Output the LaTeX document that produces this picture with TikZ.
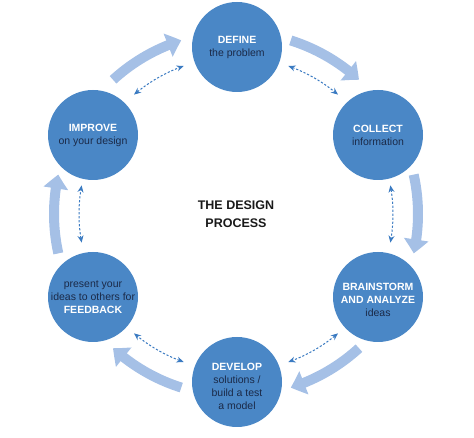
\documentclass[tikz,border=0pt]{standalone}
\usepackage{fontspec}
\setmainfont{Liberation Sans}
\usetikzlibrary{arrows.meta,bending,calc}
\definecolor{circ}{HTML}{4A87C6}
\definecolor{bigar}{HTML}{A5C0E6}
\definecolor{dashc}{HTML}{3B7BC2}
\definecolor{dark}{HTML}{1B2A48}
\newcommand{\hw}[1]{\textcolor{white}{\bfseries #1}}
\begin{document}
\begin{tikzpicture}[x=1pt,y=1pt,
  stage/.style={circle,fill=circ,minimum size=90pt,inner sep=0pt},
  stagetext/.style={align=center,font=\fontsize{10.5}{13}\selectfont,text=dark},
  bigarrow/.style={draw=bigar,line width=10pt,-{Triangle[length=14pt,width=24pt,bend]}},
  dasharrow/.style={draw=dashc,line width=1pt,dash pattern=on 2.2pt off 1.8pt,
    {Stealth[length=7pt,width=6pt,bend]}-{Stealth[length=7pt,width=6pt,bend]}},
]
\useasboundingbox (0,0) rectangle (474,438);
\coordinate (C) at (236,224);
% circles
\node[stage] (define) at (237,391) {};
\node[stage] (collect) at (378,303) {};
\node[stage] (brain) at (378,141) {};
\node[stage] (develop) at (237,56) {};
\node[stage] (feedback) at (93,141) {};
\node[stage] (improve) at (93,303) {};
% texts
\node[stagetext] (tdefine) at (define.center) {\hw{DEFINE}\\the problem};
\node[stagetext] (tcollect) at (collect.center) {\hw{COLLECT}\\information};
\node[stagetext] (tbrain) at ([yshift=-3pt]brain.center) {\hw{BRAINSTORM}\\\hw{AND ANALYZE}\\ideas};
\node[stagetext] (tdevelop) at ([yshift=-4pt]develop.center) {\hw{DEVELOP}\\solutions /\\build a test\\a model};
\node[stagetext] (tfeedback) at (feedback.center) {present your\\ideas to others for\\\hw{FEEDBACK}};
\node[stagetext] (timprove) at (improve.center) {\hw{IMPROVE}\\on your design};
\node[align=center,font=\fontsize{12.5}{18}\selectfont\bfseries,text=black!90] (title) at (C) {THE DESIGN\\PROCESS};
% big arrows and dashed arrows
\foreach \m in {60,0,-60,-120,-180,120}{
  \draw[bigarrow] ($(C)+(\m+12.5:182)$) arc[start angle=\m+12.5, end angle=\m-12.5, radius=182];
  \draw[dasharrow] ($(C)+(\m+10.5:157)$) arc[start angle=\m+10.5, end angle=\m-10.5, radius=157];
}
\end{tikzpicture}
\end{document}
